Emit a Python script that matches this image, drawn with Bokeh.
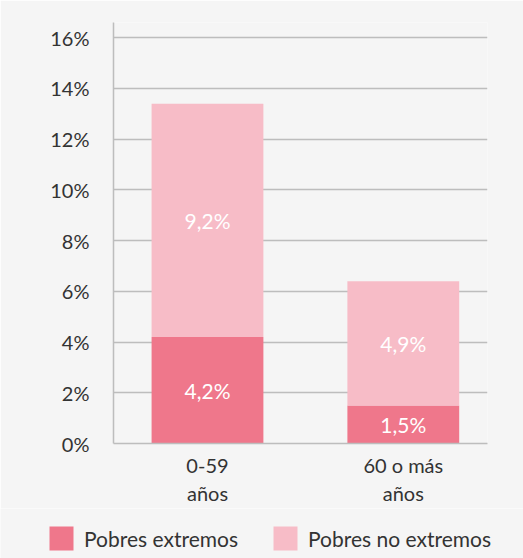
from bokeh.plotting import figure
from bokeh.layouts import column
from bokeh.models import (ColumnDataSource, Range1d, FixedTicker, PrintfTickFormatter,
                          Legend, LegendItem, LabelSet)
from bokeh.core.properties import value
from bokeh.embed import file_html
from bokeh.resources import INLINE

# ---- data ----
categories = ["0-59\naños", "60 o más\naños"]
extremos = [4.2, 1.5]
no_extremos = [9.2, 4.9]
y_ticks = [0, 2, 4, 6, 8, 10, 12, 14, 16]
series_names = ["Pobres extremos", "Pobres no extremos"]

FONT = "Lato"
TXT = "#333333"
BG = "#F5F5F5"
GRID = "#BDBDBD"
C_EXT = "#EF778B"
C_NO = "#F7BCC7"

xpos = list(range(len(categories)))
src = ColumnDataSource(dict(
    x=xpos,
    ext=extremos,
    no=no_extremos,
    ext_mid=[e / 2 for e in extremos],
    no_mid=[e + n / 2 for e, n in zip(extremos, no_extremos)],
    ext_lbl=[f"{v:.1f}".replace(".", ",") + "%" for v in extremos],
    no_lbl=[f"{v:.1f}".replace(".", ",") + "%" for v in no_extremos],
))

p = figure(width=523, height=508, output_backend="svg", toolbar_location=None,
           x_range=Range1d(-0.48, 1.43), y_range=Range1d(0, 16.6),
           min_border_left=113, min_border_right=36, min_border_top=22,
           min_border_bottom=63)
p.background_fill_color = BG
p.border_fill_color = BG
p.outline_line_color = None
p.frame_align = False

rs = p.vbar_stack(["ext", "no"], x="x", width=0.571, source=src,
                  color=[C_EXT, C_NO], line_color=None)

for ycol, tcol in (("ext_mid", "ext_lbl"), ("no_mid", "no_lbl")):
    p.add_layout(LabelSet(x="x", y=ycol, text=tcol, source=src,
                          text_align="center", text_baseline="middle",
                          text_color="white", text_font=value(FONT),
                          text_font_size="21px"))

# axes
p.xaxis.ticker = FixedTicker(ticks=xpos)
p.xaxis.major_label_overrides = {i: c for i, c in zip(xpos, categories)}
p.yaxis.ticker = FixedTicker(ticks=y_ticks)
p.yaxis.formatter = PrintfTickFormatter(format="%d%%")
for ax in (p.xaxis[0], p.yaxis[0]):
    ax.axis_line_color = GRID
    ax.axis_line_width = 1.5
    ax.major_tick_line_color = None
    ax.minor_tick_line_color = None
    ax.major_label_text_font = FONT
    ax.major_label_text_font_size = "20px"
    ax.major_label_text_color = TXT
p.yaxis.major_label_standoff = 18
p.xaxis.major_label_standoff = 3
p.xgrid.grid_line_color = None
p.ygrid.grid_line_color = GRID
p.ygrid.grid_line_width = 1.5

# ---- legend strip ----
p2 = figure(width=523, height=50, output_backend="svg", toolbar_location=None,
            x_range=Range1d(0, 1), y_range=Range1d(0, 1),
            x_axis_type=None, y_axis_type=None,
            min_border_left=0, min_border_right=0, min_border_top=0,
            min_border_bottom=0)
p2.background_fill_color = BG
p2.border_fill_color = BG
p2.outline_line_color = None
p2.grid.visible = False
p2.frame_align = False
sw0 = p2.vbar(x=[0], top=[0], width=0, color=C_EXT, line_color=None)
sw1 = p2.vbar(x=[0], top=[0], width=0, color=C_NO, line_color=None)

legend = Legend(items=[LegendItem(label=series_names[0], renderers=[sw0]),
                       LegendItem(label=series_names[1], renderers=[sw1])],
                orientation="horizontal", location=(46, 5),
                glyph_width=30, glyph_height=30, label_standoff=8, spacing=32,
                padding=0, margin=0, background_fill_alpha=0,
                border_line_color=None, label_text_font=FONT,
                label_text_font_size="21px", label_text_color=TXT)
p2.add_layout(legend, "center")

open("out.html", "w").write(file_html(column(p, p2, spacing=0), INLINE))
